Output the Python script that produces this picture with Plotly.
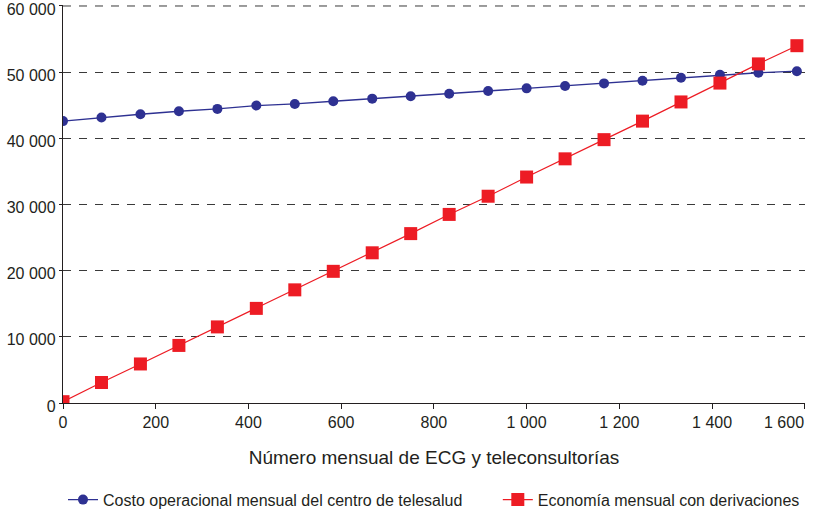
import plotly.graph_objects as go

# número mensual de ECG y teleconsultorías
ecg_mensual = [0, 83, 167, 250, 333, 417, 500, 583, 667, 750,
               833, 917, 1000, 1083, 1167, 1250, 1333, 1417, 1500, 1583]

costo_operacional = [42600, 43150, 43650, 44100, 44450, 44950, 45200, 45600, 46000, 46350,
                     46750, 47150, 47550, 47900, 48300, 48700, 49150, 49600, 49900, 50150]

economia_derivaciones = [200, 3100, 5900, 8700, 11500, 14300, 17100, 19900, 22700, 25600,
                         28500, 31250, 34150, 36900, 39800, 42600, 45500, 48350, 51250, 54000]

ticks_x = [0, 200, 400, 600, 800, 1000, 1200, 1400, 1600]
etiquetas_x = ["0", "200", "400", "600", "800", "1 000", "1 200", "1 400", "1 600"]
y_max = 60000

nombre_costo = "Costo operacional mensual del centro de telesalud"
nombre_economia = "Economía mensual con derivaciones"

azul = "#2E3192"
rojo = "#ED1C24"
texto = "#231F20"
rejilla = "#3a3a3a"

fig = go.Figure()
fig.add_trace(go.Scatter(
    x=ecg_mensual, y=costo_operacional, name=nombre_costo,
    mode="lines+markers",
    line=dict(color=azul, width=1.4),
    marker=dict(symbol="circle", size=10, color=azul),
    legend="legend",
))
fig.add_trace(go.Scatter(
    x=ecg_mensual, y=economia_derivaciones, name=nombre_economia,
    mode="lines+markers",
    line=dict(color=rojo, width=1.2),
    marker=dict(symbol="square", size=13, color=rojo),
    legend="legend2",
))

leyenda = dict(orientation="h", y=-0.243, yanchor="middle", xanchor="left",
               font=dict(size=16), bgcolor="rgba(0,0,0,0)")

fig.update_layout(
    width=816, height=512,
    margin=dict(l=63, r=11, t=5, b=109, autoexpand=False),
    paper_bgcolor="white", plot_bgcolor="white",
    font=dict(family="Liberation Sans, Arial, sans-serif", size=16, color=texto),
    separators=", ",
    showlegend=True,
    legend=dict(leyenda, x=0),
    legend2=dict(leyenda, x=0.586),
)

# top gridline (plotly drops it this close to the edge)
fig.add_shape(type="line", xref="paper", yref="y", x0=0, x1=1, y0=y_max, y1=y_max,
              line=dict(color=rejilla, width=1, dash="8px,8px"), layer="below")

# the last label does not fit centred on its tick: draw it right-aligned
fig.add_annotation(
    x=ticks_x[-1], y=0, xref="x", yref="paper",
    text=etiquetas_x[-1], showarrow=False,
    xanchor="right", yanchor="middle", yshift=-19, xshift=1,
    font=dict(size=16, color=texto),
)

fig.update_xaxes(
    range=[0, 1600.5],
    tickvals=ticks_x, ticktext=etiquetas_x[:-1] + [""],
    showgrid=False, zeroline=False,
    showline=True, linecolor=texto, linewidth=1.3,
    ticks="outside", ticklen=5, tickcolor=texto,
    title=dict(text="Número mensual de ECG y teleconsultorías", standoff=20),
)
fig.update_yaxes(
    range=[0, 60150], dtick=10000, tick0=0, tickformat=",d",
    showgrid=True, gridcolor=rejilla, griddash="8px,8px", gridwidth=1,
    zeroline=False,
    showline=True, linecolor=texto, linewidth=1.3,
    ticks="outside", ticklen=3, tickcolor=texto,
    ticklabelshift=3, ticklabeloverflow="allow",
)

fig.write_html("out.html", config={"displayModeBar": False},
               post_script="document.body.style.margin='0';")
